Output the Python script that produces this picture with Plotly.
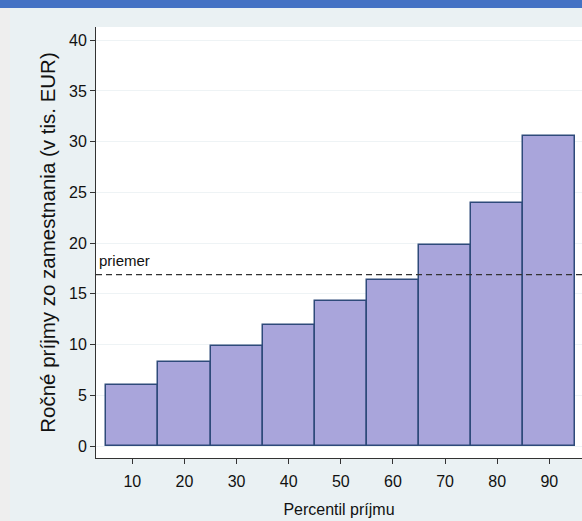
import plotly.graph_objects as go

percentiles = [10, 20, 30, 40, 50, 60, 70, 80, 90]
income = [6.0, 8.3, 9.9, 11.95, 14.3, 16.35, 19.8, 23.95, 30.6]
mean_income = 16.9
y_ticks = [0, 5, 10, 15, 20, 25, 30, 35, 40]
mean_label = "priemer"
x_title = "Percentil príjmu"
y_title = "Ročné príjmy zo zamestnania (v tis. EUR)"

FONT = "Liberation Sans, Arial, sans-serif"

fig = go.Figure()
fig.add_trace(go.Bar(
    x=percentiles, y=income, width=10,
    marker=dict(color="#A9A5DB", line=dict(color="#2E4A7A", width=1.5)),
    showlegend=False, hoverinfo="x+y",
))

W, H = 582, 521
L, R, T, B = 96, 0, 27, 63
pw, ph = W - L - R, H - T - B

shapes = [
    # left strip
    dict(type="rect", xref="paper", yref="paper", layer="below",
         x0=-L / pw, x1=-(L - 10) / pw, y0=-B / ph, y1=1 + (T - 8) / ph,
         fillcolor="#EEEEEE", line=dict(width=0)),
    # top blue band
    dict(type="rect", xref="paper", yref="paper", layer="below",
         x0=-L / pw, x1=1.01, y0=1 + (T - 8) / ph, y1=1 + T / ph + 0.01,
         fillcolor="#4472C4", line=dict(width=0)),
    # mean line
    dict(type="line", xref="paper", yref="y", x0=0, x1=1,
         y0=mean_income, y1=mean_income,
         line=dict(color="#333333", width=1.2, dash="6px,4px")),
]

fig.update_layout(
    width=W, height=H,
    margin=dict(l=L, r=R, t=T, b=B, pad=0),
    paper_bgcolor="#EAF1F3", plot_bgcolor="white",
    font=dict(family=FONT, size=16, color="#111111"),
    shapes=shapes,
    bargap=0,
    annotations=[dict(text=mean_label, xref="paper", yref="y", x=0.003, y=mean_income,
                      xanchor="left", yanchor="bottom", yshift=4, showarrow=False,
                      font=dict(family=FONT, size=15, color="#111111"))],
    xaxis=dict(range=[3.03, 96.27], tickvals=percentiles, ticks="outside", ticklen=5,
               tickcolor="#333333", showgrid=False, zeroline=False, showline=True,
               linecolor="#333333", linewidth=1, fixedrange=True, ticklabelstandoff=4,
               tickfont=dict(family=FONT, size=16),
               title=dict(text=x_title, font=dict(family=FONT, size=16), standoff=14)),
    yaxis=dict(range=[-1.18, 41.3], tickvals=y_ticks, ticks="outside", ticklen=5,
               tickcolor="#333333", showgrid=True, gridcolor="#EEF3F5", gridwidth=1,
               zeroline=False, showline=True, linecolor="#333333", linewidth=1,
               tickangle=0, fixedrange=True, tickfont=dict(family=FONT, size=16),
               title=dict(text=y_title, font=dict(family=FONT, size=20.5), standoff=7)),
)

fig.write_html("out.html")
